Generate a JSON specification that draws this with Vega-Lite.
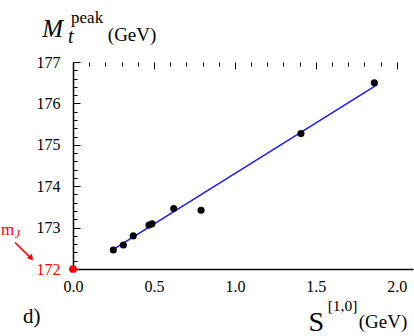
{
  "$schema": "https://vega.github.io/schema/vega-lite/v6.json",
  "width": 340,
  "height": 207,
  "autosize": "none",
  "padding": {"left": 73, "top": 62, "right": 1, "bottom": 67},
  "background": "white",
  "data": {"values": [{}]},
  "config": {
    "view": {"stroke": null},
    "axis": {
      "domainColor": "black",
      "domainWidth": 1.5,
      "gridColor": "black",
      "gridWidth": 1,
      "gridOpacity": 1,
      "labelFont": "Liberation Serif",
      "labelFontSize": 16,
      "labelColor": "black",
      "labelFlush": false,
      "labelOverlap": false
    },
    "text": {"font": "Liberation Serif", "align": "left", "baseline": "alphabetic"}
  },
  "resolve": {"axis": {"x": "independent", "y": "independent"}},
  "layer": [
    {
      "data": {"values": [{"s": 0.259, "m": 172.5}, {"s": 1.882, "m": 176.46}]},
      "mark": {"type": "line", "color": "#1a1aff", "strokeWidth": 1.5, "clip": false},
      "encoding": {
        "x": {"field": "s", "type": "quantitative", "scale": {"domain": [0, 2.1], "nice": false, "zero": false},
          "axis": {"orient": "bottom", "title": null, "values": [0.1,0.2,0.3,0.4,0.6,0.7,0.8,0.9,1.1,1.2,1.3,1.4,1.6,1.7,1.8,1.9], "labels": false, "domain": false, "ticks": false, "grid": true, "gridDash": [4, 400]}},
        "y": {"field": "m", "type": "quantitative", "scale": {"domain": [172, 177], "nice": false, "zero": false},
          "axis": {"orient": "left", "title": null, "values": [172.2,172.4,172.6,172.8,173.2,173.4,173.6,173.8,174.2,174.4,174.6,174.8,175.2,175.4,175.6,175.8,176.2,176.4,176.6,176.8], "labels": false, "domain": false, "ticks": false, "grid": true, "gridDash": [4, 400]}}
      }
    },
    {
      "data": {"values": [
        {"s": 0.249, "m": 172.46},
        {"s": 0.311, "m": 172.58},
        {"s": 0.372, "m": 172.8},
        {"s": 0.469, "m": 173.06},
        {"s": 0.488, "m": 173.09},
        {"s": 0.622, "m": 173.46},
        {"s": 0.791, "m": 173.42},
        {"s": 1.408, "m": 175.27},
        {"s": 1.861, "m": 176.5}
      ]},
      "mark": {"type": "point", "filled": true, "color": "black", "opacity": 1, "size": 50},
      "encoding": {
        "x": {"field": "s", "type": "quantitative",
          "axis": {"orient": "bottom", "title": null, "values": [0, 0.5, 1, 1.5, 2], "format": ".1f", "ticks": false, "labelPadding": 9, "grid": true, "gridDash": [7, 400]}},
        "y": {"field": "m", "type": "quantitative",
          "axis": {"orient": "left", "title": null, "values": [172, 173, 174, 175, 176, 177], "ticks": false, "labelPadding": 13, "grid": true, "gridDash": [7, 400],
            "labelColor": {"condition": {"test": "datum.value == 172", "value": "red"}, "value": "black"}}}
      }
    },
    {
      "data": {"values": [{"s": 0, "m": 172}]},
      "mark": {"type": "point", "filled": true, "color": "red", "opacity": 1, "size": 60, "clip": false},
      "encoding": {
        "x": {"field": "s", "type": "quantitative", "axis": null},
        "y": {"field": "m", "type": "quantitative", "axis": null}
      }
    },
    {
      "mark": {"type": "text", "text": "M", "fontSize": 25, "fontStyle": "italic"},
      "encoding": {"x": {"datum": -0.19, "type": "quantitative", "axis": null}, "y": {"datum": 177.6, "type": "quantitative", "axis": null}}
    },
    {
      "mark": {"type": "text", "text": "t", "fontSize": 20, "fontStyle": "italic"},
      "encoding": {"x": {"datum": -0.031, "type": "quantitative", "axis": null}, "y": {"datum": 177.46, "type": "quantitative", "axis": null}}
    },
    {
      "mark": {"type": "text", "text": "peak", "fontSize": 17},
      "encoding": {"x": {"datum": -0.012, "type": "quantitative", "axis": null}, "y": {"datum": 177.95, "type": "quantitative", "axis": null}}
    },
    {
      "mark": {"type": "text", "text": "(GeV)", "fontSize": 19},
      "encoding": {"x": {"datum": 0.215, "type": "quantitative", "axis": null}, "y": {"datum": 177.51, "type": "quantitative", "axis": null}}
    },
    {
      "mark": {"type": "text", "text": "d)", "fontSize": 21},
      "encoding": {"x": {"datum": -0.309, "type": "quantitative", "axis": null}, "y": {"datum": 170.69, "type": "quantitative", "axis": null}}
    },
    {
      "mark": {"type": "text", "text": "S", "fontSize": 28},
      "encoding": {"x": {"datum": 1.455, "type": "quantitative", "axis": null}, "y": {"datum": 170.5, "type": "quantitative", "axis": null}}
    },
    {
      "mark": {"type": "text", "text": "[1,0]", "fontSize": 15.5},
      "encoding": {"x": {"datum": 1.573, "type": "quantitative", "axis": null}, "y": {"datum": 170.98, "type": "quantitative", "axis": null}}
    },
    {
      "mark": {"type": "text", "text": "(GeV)", "fontSize": 19},
      "encoding": {"x": {"datum": 1.765, "type": "quantitative", "axis": null}, "y": {"datum": 170.57, "type": "quantitative", "axis": null}}
    },
    {
      "mark": {"type": "text", "text": "m", "fontSize": 17, "color": "red"},
      "encoding": {"x": {"datum": -0.445, "type": "quantitative", "axis": null}, "y": {"datum": 172.82, "type": "quantitative", "axis": null}}
    },
    {
      "mark": {"type": "text", "text": "J", "fontSize": 12, "fontStyle": "italic", "color": "red"},
      "encoding": {"x": {"datum": -0.36, "type": "quantitative", "axis": null}, "y": {"datum": 172.76, "type": "quantitative", "axis": null}}
    },
    {
      "mark": {"type": "rule", "color": "red", "strokeWidth": 1.5, "clip": false},
      "encoding": {
        "x": {"datum": -0.358, "type": "quantitative", "axis": null},
        "y": {"datum": 172.64, "type": "quantitative", "axis": null},
        "x2": {"datum": -0.265},
        "y2": {"datum": 172.28}
      }
    },
    {
      "mark": {"type": "point", "shape": "triangle", "filled": true, "color": "red", "opacity": 1, "size": 45, "angle": 142, "clip": false},
      "encoding": {"x": {"datum": -0.262, "type": "quantitative", "axis": null}, "y": {"datum": 172.28, "type": "quantitative", "axis": null}}
    }
  ]
}
